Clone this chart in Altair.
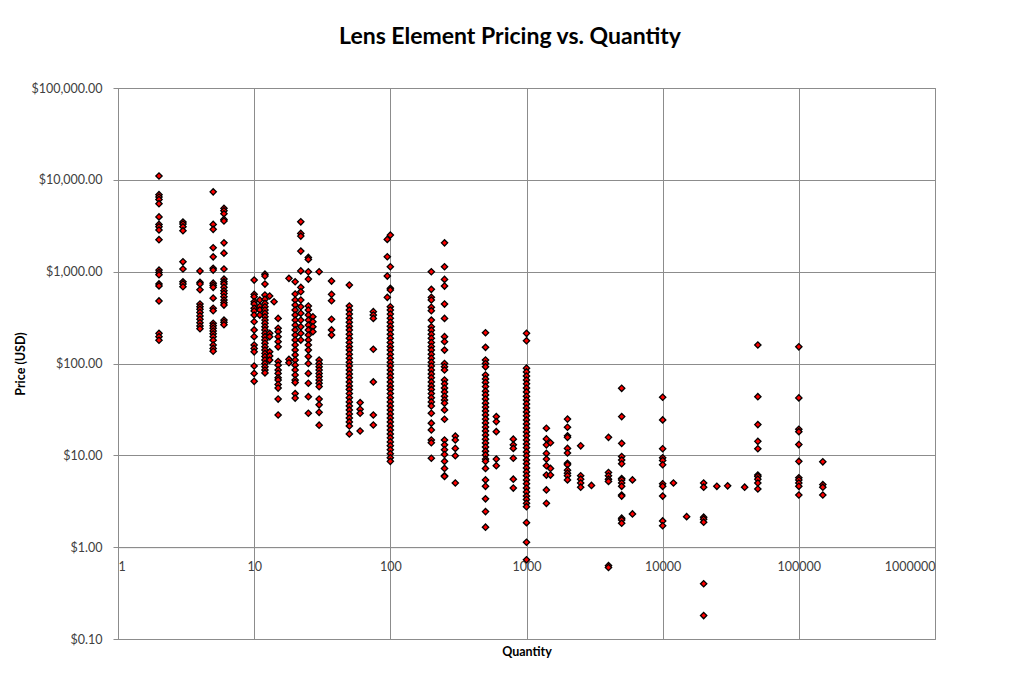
import altair as alt
import pandas as pd

# Price (USD) readings for each quantity column
price_q2 = [11000, 6900, 6500, 6100, 5500, 3950, 3270, 3080, 2840, 2230, 1040, 980, 925, 735, 700, 480, 213, 196, 179]
price_q3 = [3470, 3300, 3080, 2790, 1280, 1070, 775, 735, 685]
price_q4 = [1015, 765, 735, 635, 445, 415, 390, 360, 330, 303, 278, 256, 239]
price_q5 = [7400, 3270, 2890, 1820, 1450, 1090, 1040, 750, 710, 675, 515, 400, 375, 274, 258, 242, 226, 211, 196, 179, 159, 146, 136]
price_q6 = [4890, 4600, 4270, 3710, 3560, 2060, 1590, 1070, 830, 775, 735, 675, 620, 580, 533, 490, 460, 433, 297, 281, 264]
price_q10 = [810, 566, 533, 470, 444, 400, 373, 337, 285, 232, 196, 159, 146, 134, 94, 78, 64]
price_q11 = [491, 420, 382, 337]
price_q12 = [940, 895, 733, 556, 500, 452, 415, 382, 352, 323, 297, 274, 251, 232, 213, 196, 180, 166, 152, 140, 129, 119, 109, 100, 92, 85, 79]
price_q13 = [543, 213, 196, 134, 121, 109]
price_q14 = [470]
price_q15 = [310, 242, 222, 196, 173, 152, 105, 96, 85, 78, 70, 66, 59, 54, 41, 27.5]
price_q18 = [846, 111, 102]
price_q20 = [776, 571, 491, 433, 382, 337, 297, 262, 232, 204, 180, 159, 140, 124, 109, 96, 85, 75, 66, 62, 47, 42]
price_q22 = [3490, 2610, 2440, 1675, 1020, 675, 604, 491, 415, 352, 297, 251, 213, 180]
price_q25 = [1430, 1360, 998, 830, 423, 382, 337, 297, 262, 232, 204, 180, 159, 140, 119, 100, 78, 61, 43.5, 28.7]
price_q27 = [323, 285, 251, 222]
price_q30 = [998, 109, 100, 92, 85, 78, 72, 66, 61, 56, 41, 35.5, 29.4, 21.3]
price_q37 = [790, 566, 482, 303, 232, 204]
price_q50 = [715, 423, 382, 345, 311, 281, 254, 232, 208, 188, 169, 153, 140, 126, 114, 103, 94, 85, 77, 70, 63, 57, 52, 47, 42.3, 38.2, 34.5, 31.2, 28.2, 25.5, 23.1, 20.9, 17.1]
price_q60 = [37.5, 31.7, 28.7, 18.4]
price_q75 = [367, 337, 310, 143, 63, 27.5, 21.4]
price_q95 = [2245, 1452, 896, 525]
price_q100 = [2500, 1130, 658, 631, 415, 382, 345, 311, 281, 254, 232, 208, 188, 169, 153, 140, 126, 114, 103, 94, 85, 77, 70, 63, 57, 52, 47, 42.3, 38.2, 34.5, 31.2, 28.2, 25.5, 23.1, 20.9, 18.9, 17.1, 15.5, 14, 12.7, 11.5, 10.4, 9.4, 8.6]
price_q200 = [998, 642, 525, 491, 409, 375, 297, 251, 230, 208, 188, 169, 153, 140, 126, 114, 103, 94, 85, 77, 70, 63, 57, 52, 47, 42.3, 38.2, 34.5, 28.7, 22.4, 18.9, 14.7, 13.7, 9.3]
price_q250 = [2060, 1130, 824, 697, 444, 310, 196, 173, 140, 100, 92, 85, 66, 60, 54, 49, 44, 40, 37, 31.2, 24.7, 14.7, 13, 11.5, 10.2, 8.6, 7.2, 6.0, 5.9]
price_q300 = [16.2, 14.7, 11.9, 9.9, 5.0]
price_q500 = [216, 150, 109, 100, 92, 75, 68, 62, 56, 50, 45.5, 41, 37, 33.5, 30.4, 27.5, 24.8, 22.5, 20.3, 18.4, 16.6, 15, 13.6, 12.3, 11.1, 10.1, 9.1, 8.6, 7.2, 5.4, 4.6, 3.36, 2.44, 1.65]
price_q600 = [26.4, 23.3, 18.1, 9.1, 7.7]
price_q800 = [15, 13, 11.9, 9.3, 5.5, 4.4]
price_q1000 = [213, 177, 89, 81, 73, 66, 60, 54, 49, 44, 40, 36.3, 32.8, 29.7, 26.9, 24.3, 22, 19.9, 18, 16.3, 14.7, 13.3, 12.1, 10.9, 9.9, 8.9, 8.1, 7.3, 6.6, 6.0, 5.4, 4.9, 4.4, 4.0, 3.6, 3.3, 3.0, 2.76, 1.85, 1.13, 0.73]
price_q1400 = [19.7, 15.1, 13, 10.5, 9.1, 7.7, 6.1, 4.2, 3.0]
price_q1500 = [13.7, 7.2, 6.1]
price_q2000 = [24.8, 20.2, 16.3, 15.7, 11.9, 10.6, 8.2, 7.9, 6.9, 6.4, 6.0, 5.4]
price_q2500 = [12.7, 6.0, 5.5, 5.0, 4.5]
price_q3000 = [4.7]
price_q4000 = [15.7, 6.5, 6.0, 5.5, 5.2, 0.63, 0.6]
price_q5000 = [53.7, 26.4, 13.5, 9.7, 8.9, 8.1, 5.6, 5.4, 5.0, 4.6, 3.7, 3.6, 2.07, 1.98, 1.82]
price_q6000 = [5.4, 2.3]
price_q10000 = [42.9, 24.3, 11.8, 9.4, 8.8, 7.9, 4.9, 4.6, 3.6, 1.93, 1.71]
price_q12000 = [5.0]
price_q15000 = [2.15]
price_q20000 = [5.0, 4.5, 2.12, 2.02, 1.87, 0.40, 0.18]
price_q25000 = [4.6]
price_q30000 = [4.65]
price_q40000 = [4.5]
price_q50000 = [159, 43.5, 21.6, 14.2, 11.8, 6.1, 5.9, 5.5, 5.0, 4.3]
price_q100000 = [152, 42.2, 19.2, 18.1, 13.1, 8.6, 5.7, 5.4, 5.0, 4.6, 3.7]
price_q150000 = [8.5, 4.8, 4.5, 3.7]

groups = [
    (2, price_q2), (3, price_q3), (4, price_q4), (5, price_q5), (6, price_q6),
    (10, price_q10), (11, price_q11), (12, price_q12), (13, price_q13), (14, price_q14),
    (15, price_q15), (18, price_q18), (20, price_q20), (22, price_q22), (25, price_q25),
    (27, price_q27), (30, price_q30), (37, price_q37), (50, price_q50), (60, price_q60),
    (75, price_q75), (95, price_q95), (100, price_q100), (200, price_q200), (250, price_q250),
    (300, price_q300), (500, price_q500), (600, price_q600), (800, price_q800), (1000, price_q1000),
    (1400, price_q1400), (1500, price_q1500), (2000, price_q2000), (2500, price_q2500),
    (3000, price_q3000), (4000, price_q4000), (5000, price_q5000), (6000, price_q6000),
    (10000, price_q10000), (12000, price_q12000), (15000, price_q15000), (20000, price_q20000),
    (25000, price_q25000), (30000, price_q30000), (40000, price_q40000), (50000, price_q50000),
    (100000, price_q100000), (150000, price_q150000),
]

x_ticks = [1, 10, 100, 1000, 10000, 100000, 1000000]
y_ticks = [0.1, 1, 10, 100, 1000, 10000, 100000]

rows = [{"Quantity": q, "Price": p} for q, ps in groups for p in ps]
df = pd.DataFrame(rows)

GRID = "#8c8c8c"
W, H = 817, 551

chart = alt.Chart(df).mark_point(
    shape="diamond", filled=True, fill="#ff0000", stroke="#000000",
    strokeWidth=1.3, size=40, opacity=1, fillOpacity=1, strokeOpacity=1,
).encode(
    x=alt.X("Quantity:Q",
            scale=alt.Scale(type="log", domain=[1, 1000000], nice=False),
            axis=alt.Axis(values=x_ticks, format="d", title="Quantity",
                          offset=-H / 6, tickSize=5, labelPadding=8,
                          titleX=W / 2, titleY=104, titleBaseline="middle",
                          titleAlign="center")),
    y=alt.Y("Price:Q",
            scale=alt.Scale(type="log", domain=[0.1, 100000], nice=False),
            axis=alt.Axis(values=y_ticks, format="$,.2f", title="Price (USD)",
                          tickSize=5, labelPadding=11,
                          titleX=-98, titleY=H / 2, titleAngle=-90,
                          titleAlign="center", titleBaseline="middle")),
).properties(
    width=W, height=H,
    title=alt.TitleParams("Lens Element Pricing vs. Quantity", font="Lato",
                          fontSize=23, fontWeight="bold", color="#000000",
                          anchor="middle", dx=-16.5, offset=15,
                          baseline="alphabetic"),
    autosize="none",
    padding={"left": 110, "top": 80, "right": 60, "bottom": 40},
).configure_axis(
    gridColor=GRID, gridWidth=1, gridOpacity=1,
    domainColor=GRID, domainWidth=1, tickColor=GRID, tickWidth=1,
    labelFont="Lato", labelFontSize=12.5, labelColor="#404040",
    titleFont="Lato", titleFontSize=12.5, titleFontWeight="bold", titleColor="#000000",
).configure_view(stroke=GRID, strokeWidth=1)

chart.save("out.html", embed_options={"renderer": "svg", "actions": False})
